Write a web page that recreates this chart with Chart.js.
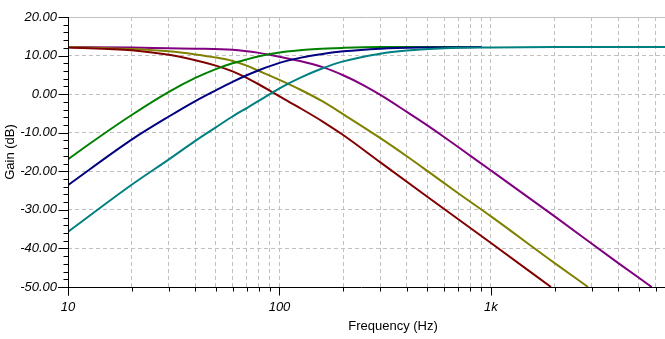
<!DOCTYPE html>
<html>
<head>
<meta charset="utf-8">
<script src="https://cdn.jsdelivr.net/npm/chart.js@4"></script>
<style>
  body { margin: 0; background: #fff; overflow: hidden; }
  #wrap { width: 665px; height: 339px; position: relative; }
</style>
</head>
<body>
<div id="wrap"><canvas id="gainChart"></canvas></div>
<script>
// Low-pass curves
const purpleFreq = [10, 20, 30, 40, 60, 80, 90, 100, 125, 160, 200, 250, 300, 400, 500, 600, 800, 1000, 2000, 4000, 5754];
const purpleGain = [12.2, 12.1, 11.9, 11.8, 11.5, 10.7, 10.2, 9.7, 8.6, 7.0, 4.9, 2.3, -0.2, -4.6, -8.1, -11.1, -16.0, -19.8, -31.7, -43.8, -50];
const oliveFreq = [10, 20, 30, 40, 50, 60, 70, 80, 90, 100, 125, 160, 200, 300, 400, 500, 700, 1000, 2000, 2877];
const oliveGain = [12.2, 11.7, 11.1, 10.3, 9.5, 8.6, 7.4, 6.0, 4.8, 3.7, 1.2, -1.9, -5.2, -11.4, -16.1, -19.9, -25.7, -31.7, -43.8, -50];
const maroonFreq = [10, 20, 30, 40, 50, 60, 70, 80, 90, 100, 125, 160, 200, 300, 500, 1000, 1923];
const maroonGain = [12.1, 11.4, 10.2, 8.8, 7.4, 5.9, 4.2, 2.5, 0.9, -0.6, -3.6, -7.1, -10.6, -17.7, -26.6, -38.6, -50];
// High-pass curves
const greenFreq = [10, 13, 20, 30, 40, 50, 60, 70, 80, 100, 150, 200, 300, 500, 900];
const greenGain = [-16.9, -12.4, -5.4, 0.6, 4.2, 6.5, 8.0, 9.0, 9.8, 10.8, 11.7, 12.0, 12.2, 12.2, 12.2];
const navyFreq = [10, 20, 30, 40, 50, 60, 70, 80, 100, 125, 160, 200, 300, 500, 900];
const navyGain = [-23.6, -11.8, -5.8, -1.8, 1.0, 3.2, 4.9, 6.2, 8.1, 9.4, 10.4, 11.1, 11.8, 12.1, 12.2];
const tealFreq = [10, 20, 30, 40, 50, 60, 70, 80, 100, 125, 160, 200, 300, 400, 600, 1000, 2000, 6700];
const tealGain = [-35.7, -23.5, -16.9, -12.1, -8.6, -5.8, -3.6, -1.7, 1.5, 4.2, 6.7, 8.5, 10.5, 11.3, 11.9, 12.1, 12.2, 12.2];

const xTicks = [10, 20, 30, 40, 50, 60, 70, 80, 90, 100, 200, 300, 400, 500, 600, 700, 800, 900,
  1000, 2000, 3000, 4000, 5000, 6000];
const xLabels = { 10: "10", 100: "100", 1000: "1k" };
const yLabels = [20, 10, 0, -10, -20, -30, -40, -50];
const yMin = -50, yMax = 20;

function pts(fs, gs) {
  return fs.map(function (f, i) { return { x: f, y: gs[i] }; });
}

function series(label, fs, gs, color) {
  return {
    label: label,
    data: pts(fs, gs),
    borderColor: color,
    borderWidth: 2,
    pointRadius: 0,
    fill: false,
    cubicInterpolationMode: "monotone"
  };
}

// axes, tick marks, tick labels and x title drawn on top
const axisPlugin = {
  id: "axisPlugin",
  afterDraw: function (chart) {
    const ctx = chart.ctx;
    const xs = chart.scales.x, ys = chart.scales.y;
    const a = chart.chartArea;
    ctx.save();
    ctx.lineWidth = 1;
    ctx.strokeStyle = "#c0c0c0";
    ctx.beginPath();
    ctx.moveTo(a.left, Math.round(a.top) + 0.5);
    ctx.lineTo(a.right, Math.round(a.top) + 0.5);
    ctx.stroke();

    ctx.strokeStyle = "#000";
    const lx = Math.round(a.left) + 0.5, by = Math.round(a.bottom) + 0.5;
    ctx.beginPath();
    ctx.moveTo(lx, a.top);
    ctx.lineTo(lx, by + 8);
    ctx.moveTo(a.left - 10, by);
    ctx.lineTo(a.right, by);
    // y ticks every 2 dB, long every 10
    for (let v = yMin; v <= yMax; v += 2) {
      const py = Math.round(ys.getPixelForValue(v)) + 0.5;
      ctx.moveTo(lx - (v % 10 === 0 ? 10 : 5), py);
      ctx.lineTo(lx, py);
    }
    xTicks.forEach(function (v) {
      const px = Math.round(xs.getPixelForValue(v)) + 0.5;
      ctx.moveTo(px, by);
      ctx.lineTo(px, by + (xLabels[v] ? 8 : 4));
    });
    ctx.stroke();

    ctx.fillStyle = "#000";
    ctx.font = "italic 13px 'Liberation Sans'";
    ctx.textBaseline = "middle";
    ctx.textAlign = "right";
    yLabels.forEach(function (v) {
      ctx.fillText(v.toFixed(2), a.left - 11, ys.getPixelForValue(v));
    });
    ctx.textAlign = "center";
    xTicks.forEach(function (v) {
      if (xLabels[v]) ctx.fillText(xLabels[v], xs.getPixelForValue(v), by + 20);
    });

    ctx.font = "13px 'Liberation Sans'";
    ctx.fillText("Frequency (Hz)", 393, 326);
    ctx.restore();
  }
};

new Chart(document.getElementById("gainChart"), {
  type: "line",
  data: {
    datasets: [
      series("teal", tealFreq, tealGain, "#008080"),
      series("navy", navyFreq, navyGain, "#000080"),
      series("green", greenFreq, greenGain, "#008000"),
      series("maroon", maroonFreq, maroonGain, "#800000"),
      series("olive", oliveFreq, oliveGain, "#808000"),
      series("purple", purpleFreq, purpleGain, "#800080")
    ]
  },
  options: {
    responsive: true,
    maintainAspectRatio: false,
    animation: false,
    layout: { autoPadding: false, padding: { top: 17, right: 0, left: 0, bottom: 0 } },
    plugins: { legend: { display: false }, tooltip: { enabled: false } },
    scales: {
      x: {
        type: "logarithmic",
        min: 10,
        max: 6650,
        afterBuildTicks: function (scale) {
          scale.ticks = xTicks.map(function (v) { return { value: v }; });
        },
        afterFit: function (scale) {
          scale.height = 52;
          scale.paddingLeft = 0;
          scale.paddingRight = 0;
        },
        grid: {
          drawTicks: false,
          color: function (c) { return c.tick && c.tick.value === 10 ? "rgba(0,0,0,0)" : "#c0c0c0"; }
        },
        border: { display: false, dash: [4, 3] },
        ticks: { display: false, autoSkip: false }
      },
      y: {
        min: yMin,
        max: yMax,
        afterFit: function (scale) {
          scale.width = 68;
          scale.paddingTop = 0;
          scale.paddingBottom = 0;
        },
        grid: {
          drawTicks: false,
          color: function (c) {
            const v = c.tick ? c.tick.value : 0;
            return (v === yMin || v === yMax) ? "rgba(0,0,0,0)" : "#c0c0c0";
          }
        },
        border: { display: false, dash: [4, 3] },
        ticks: { display: false, stepSize: 10 },
        title: {
          display: true,
          text: "Gain (dB)",
          color: "#000",
          font: { family: "Liberation Sans", size: 13 },
          padding: { top: 3, bottom: 0 }
        }
      }
    }
  },
  plugins: [axisPlugin]
});
</script>
</body>
</html>
